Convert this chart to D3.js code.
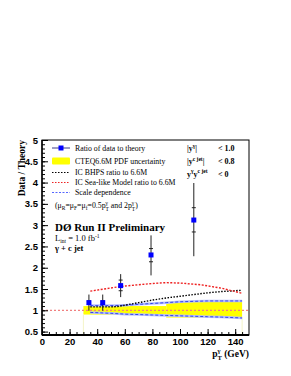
<!DOCTYPE html>
<html>
<head>
<meta charset="utf-8">
<script src="https://cdn.jsdelivr.net/npm/d3@7/dist/d3.min.js"></script>
<style>
  body { margin: 0; background: #fff; }
  svg { display: block; }
  .serif { font-family: 'Liberation Serif', 'DejaVu Serif', serif; }
  .tick text { font-family: 'Liberation Sans', Arial, sans-serif; font-weight: bold; font-size: 9.5px; fill: #000; }
</style>
</head>
<body>
<div id="chart"></div>
<script>
// data points: ratio of data to theory
const ptPoints = [34, 44, 57, 79, 110];
const ratio = [1.18, 1.18, 1.58, 2.30, 3.12];
const totLow = [0.99, 0.99, 1.31, 1.82, 2.27];
const totHigh = [1.37, 1.37, 1.85, 2.76, 3.99];
const statLow = [1.14, 1.14, 1.46, 2.14, 2.84];
const statHigh = [1.22, 1.22, 1.71, 2.45, 3.41];

// CTEQ6.6M PDF uncertainty band (bin edges)
const bandEdges = [30, 90, 145];
const bandLow = [0.90, 0.83];
const bandHigh = [1.10, 1.20];

// IC BHPS ratio
const bhpsPt = [35, 50, 55, 60, 70, 80, 90, 100, 110, 120, 130, 140, 145];
const bhpsRatio = [1.08, 1.08, 1.09, 1.12, 1.18, 1.24, 1.29, 1.33, 1.37, 1.41, 1.44, 1.46, 1.47];

// IC Sea-like ratio
const seaPt = [35, 45, 57, 70, 80, 90, 100, 115, 130, 145];
const seaRatio = [1.45, 1.50, 1.56, 1.60, 1.63, 1.65, 1.64, 1.60, 1.52, 1.40];

// scale dependence
const scalePt = [35, 50, 60, 70, 80, 90, 100, 110, 120, 130, 145];
const scaleUp = [1.11, 1.11, 1.12, 1.14, 1.16, 1.18, 1.20, 1.21, 1.22, 1.22, 1.22];
const scaleDown = [0.95, 0.93, 0.91, 0.90, 0.89, 0.88, 0.87, 0.86, 0.85, 0.84, 0.82];

const xTicks = [0, 20, 40, 60, 80, 100, 120, 140];
const yTicks = [0.5, 1, 1.5, 2, 2.5, 3, 3.5, 4, 4.5, 5];

// #Dimensions
const w = 291, h = 376;
const padL = 42, padR = 249, padT = 140, padB = 335;

const svg = d3.select('#chart').append('svg')
  .attr('width', w).attr('height', h);

const x = d3.scaleLinear().domain([0, 150]).range([padL, padR]);
const y = d3.scaleLinear().domain([0.42, 5.0]).range([padB, padT]);

// #Band
bandLow.forEach((lo, i) => {
  svg.append('rect')
    .attr('x', x(bandEdges[i]))
    .attr('y', y(bandHigh[i]))
    .attr('width', x(bandEdges[i + 1]) - x(bandEdges[i]))
    .attr('height', y(lo) - y(bandHigh[i]))
    .attr('fill', '#ffff00');
});
// faint band edges down to the axis
[bandEdges[0], bandEdges[bandEdges.length - 1]].forEach((e, i) => {
  svg.append('line')
    .attr('x1', x(e)).attr('x2', x(e))
    .attr('y1', y(i === 0 ? bandLow[0] : bandLow[bandLow.length - 1])).attr('y2', padB)
    .attr('stroke', '#f4f4c8').attr('stroke-width', 1);
});

// #Reference line at 1
svg.append('line')
  .attr('x1', x(0)).attr('x2', x(150))
  .attr('y1', y(1)).attr('y2', y(1))
  .attr('stroke', '#f08080').attr('stroke-width', 1.3)
  .attr('stroke-dasharray', '2,2');

const line = d3.line().x(d => x(d[0])).y(d => y(d[1]));

// #Scale dependence
[scaleUp, scaleDown].forEach(vals => {
  const pts = scalePt.map((p, i) => [p, vals[i]]);
  svg.append('path').attr('d', line(pts))
    .attr('fill', 'none').attr('stroke', '#b8c0ff').attr('stroke-width', 2.5);
  svg.append('path').attr('d', line(pts))
    .attr('fill', 'none').attr('stroke', '#3344ee').attr('stroke-width', 1)
    .attr('stroke-dasharray', '3,2');
});

// #BHPS
svg.append('path').attr('d', line(bhpsPt.map((p, i) => [p, bhpsRatio[i]])))
  .attr('fill', 'none').attr('stroke', '#000').attr('stroke-width', 1.4)
  .attr('stroke-dasharray', '1.5,1.5');

// #Sea-like
svg.append('path').attr('d', line(seaPt.map((p, i) => [p, seaRatio[i]])))
  .attr('fill', 'none').attr('stroke', '#ee2222').attr('stroke-width', 1.4)
  .attr('stroke-dasharray', '2,1.5');

// #Data points with error bars
const pts = ptPoints.map((p, i) => ({ p, r: ratio[i], lo: totLow[i], hi: totHigh[i], slo: statLow[i], shi: statHigh[i] }));
const g = svg.append('g');
g.selectAll('line.err').data(pts).enter().append('line')
  .attr('x1', d => x(d.p)).attr('x2', d => x(d.p))
  .attr('y1', d => y(d.lo)).attr('y2', d => y(d.hi))
  .attr('stroke', '#222').attr('stroke-width', 1);
pts.forEach(d => {
  [d.slo, d.shi].forEach(v => {
    g.append('line')
      .attr('x1', x(d.p) - 2).attr('x2', x(d.p) + 2)
      .attr('y1', y(v)).attr('y2', y(v))
      .attr('stroke', '#222').attr('stroke-width', 1);
  });
});
g.selectAll('rect').data(pts).enter().append('rect')
  .attr('x', d => x(d.p) - 2.5).attr('y', d => y(d.r) - 2.5)
  .attr('width', 5).attr('height', 5)
  .attr('fill', '#0000ff');

// #Axes
svg.append('g').attr('transform', 'translate(' + padL + ',0)')
  .call(d3.axisLeft(y).tickValues(d3.range(0.5, 5.0, 0.1)).tickSize(-3).tickFormat(''))
  .call(a => a.select('.domain').remove())
  .selectAll('line').attr('stroke', '#000');
svg.append('g').attr('transform', 'translate(' + padL + ',0)')
  .call(d3.axisLeft(y).tickValues(yTicks).tickSize(-6).tickPadding(4).tickFormat(d => String(d)))
  .call(a => a.select('.domain').remove())
  .selectAll('line').attr('stroke', '#000');

svg.append('g').attr('transform', 'translate(0,' + padB + ')')
  .call(d3.axisBottom(x).tickValues(d3.range(0, 150, 5)).tickSize(-3).tickFormat(''))
  .call(a => a.select('.domain').remove())
  .selectAll('line').attr('stroke', '#000');
svg.append('g').attr('transform', 'translate(0,' + padB + ')')
  .call(d3.axisBottom(x).tickValues(xTicks).tickSize(-6).tickPadding(3))
  .call(a => a.select('.domain').remove())
  .selectAll('line').attr('stroke', '#000');

// #Frame
svg.append('rect')
  .attr('x', padL).attr('y', padT)
  .attr('width', padR - padL).attr('height', padB - padT)
  .attr('fill', 'none').attr('stroke', '#000').attr('stroke-width', 1);
svg.append('line').attr('x1', padL).attr('x2', padR).attr('y1', padB).attr('y2', padB)
  .attr('stroke', '#000').attr('stroke-width', 1.8);
svg.append('line').attr('x1', padL).attr('x2', padL).attr('y1', padT).attr('y2', padB)
  .attr('stroke', '#000').attr('stroke-width', 1.4);

// #Axis titles
svg.append('text').attr('class', 'serif')
  .attr('transform', 'translate(25,' + padT + ') rotate(-90)')
  .attr('text-anchor', 'end')
  .attr('font-size', 9.5).attr('font-weight', 'bold')
  .text('Data / Theory');

const xt = svg.append('text').attr('class', 'serif')
  .attr('x', padR).attr('y', 357)
  .attr('text-anchor', 'end')
  .attr('font-size', 9.5).attr('font-weight', 'bold');
xt.append('tspan').text('p');
xt.append('tspan').attr('font-size', 6.5).attr('dy', -4).text('γ');
xt.append('tspan').attr('font-size', 6.5).attr('dx', -3).attr('dy', 7).text('T');
xt.append('tspan').attr('dy', -3).text(' (GeV)');

// #Legend
const lx0 = 52, lx1 = 70, tx = 75;
const legY = [148, 161, 172.5, 182.5, 192.5];
const legendLabels = ['Ratio of data to theory', 'CTEQ6.6M PDF uncertainty', 'IC BHPS ratio to 6.6M', 'IC Sea-like Model ratio to 6.6M', 'Scale dependence'];

svg.append('line').attr('x1', lx0).attr('x2', lx1).attr('y1', legY[0]).attr('y2', legY[0])
  .attr('stroke', '#3a3a8a').attr('stroke-width', 1);
svg.append('rect').attr('x', 58.5).attr('y', legY[0] - 2.5).attr('width', 5).attr('height', 5).attr('fill', '#0000ff');
svg.append('rect').attr('x', lx0).attr('y', legY[1] - 3.5).attr('width', lx1 - lx0).attr('height', 7)
  .attr('fill', '#ffff00').attr('rx', 1);
svg.append('line').attr('x1', lx0).attr('x2', lx1).attr('y1', legY[2]).attr('y2', legY[2])
  .attr('stroke', '#000').attr('stroke-width', 1.2).attr('stroke-dasharray', '1.5,1.5');
svg.append('line').attr('x1', lx0).attr('x2', lx1).attr('y1', legY[3]).attr('y2', legY[3])
  .attr('stroke', '#ee2222').attr('stroke-width', 1.2).attr('stroke-dasharray', '1.5,1.5');
svg.append('line').attr('x1', lx0).attr('x2', lx1).attr('y1', legY[4]).attr('y2', legY[4])
  .attr('stroke', '#5566ff').attr('stroke-width', 1.2).attr('stroke-dasharray', '2,1.5');

legendLabels.forEach((t, i) => {
  svg.append('text').attr('class', 'serif')
    .attr('x', tx).attr('y', legY[i] + 2.8)
    .attr('font-size', 7.8).text(t);
});

// scale choice line
const sc = svg.append('text').attr('class', 'serif')
  .attr('x', 55).attr('y', 207.5).attr('font-size', 7.8);
sc.append('tspan').text('(μ');
sc.append('tspan').attr('font-size', 5.5).attr('dy', 2).text('R');
sc.append('tspan').attr('dy', -2).text('=μ');
sc.append('tspan').attr('font-size', 5.5).attr('dy', 2).text('F');
sc.append('tspan').attr('dy', -2).text('=μ');
sc.append('tspan').attr('font-size', 5.5).attr('dy', 2).text('f');
sc.append('tspan').attr('dy', -2).text('=0.5p');
sc.append('tspan').attr('font-size', 5.5).attr('dy', -3).text('γ');
sc.append('tspan').attr('font-size', 5.5).attr('dx', -2.5).attr('dy', 6).text('T');
sc.append('tspan').attr('dy', -3).text(' and 2p');
sc.append('tspan').attr('font-size', 5.5).attr('dy', -3).text('γ');
sc.append('tspan').attr('font-size', 5.5).attr('dx', -2.5).attr('dy', 6).text('T');
sc.append('tspan').attr('dy', -3).text(')');

// #Experiment labels
svg.append('text').attr('class', 'serif')
  .attr('x', 55).attr('y', 230.5)
  .attr('font-size', 11).attr('font-weight', 'bold')
  .text('DØ Run II Preliminary');

const lum = svg.append('text').attr('class', 'serif')
  .attr('x', 55).attr('y', 241).attr('font-size', 8.5);
lum.append('tspan').text('L');
lum.append('tspan').attr('font-size', 5.5).attr('dy', 2).text('int');
lum.append('tspan').attr('dy', -2).text(' = 1.0 fb');
lum.append('tspan').attr('font-size', 5.5).attr('dy', -3.5).text('-1');

svg.append('text').attr('class', 'serif')
  .attr('x', 55).attr('y', 251).attr('font-size', 8.5).attr('font-weight', 'bold')
  .text('γ + c jet');

// #Cuts
const cutY = [151, 164, 176.5];
const c1 = svg.append('text').attr('class', 'serif').attr('x', 187).attr('y', cutY[0])
  .attr('font-size', 8).attr('font-weight', 'bold');
c1.append('tspan').text('|y');
c1.append('tspan').attr('font-size', 5.5).attr('dy', -3.5).text('γ');
c1.append('tspan').attr('dy', 3.5).text('|');
const c2 = svg.append('text').attr('class', 'serif').attr('x', 187).attr('y', cutY[1])
  .attr('font-size', 8).attr('font-weight', 'bold');
c2.append('tspan').text('|y');
c2.append('tspan').attr('font-size', 5.5).attr('dy', -3.5).text('c jet');
c2.append('tspan').attr('dy', 3.5).text('|');
const c3 = svg.append('text').attr('class', 'serif').attr('x', 187).attr('y', cutY[2])
  .attr('font-size', 8).attr('font-weight', 'bold');
c3.append('tspan').text('y');
c3.append('tspan').attr('font-size', 5.5).attr('dy', -3.5).text('γ');
c3.append('tspan').attr('dy', 3.5).text('y');
c3.append('tspan').attr('font-size', 5.5).attr('dy', -3.5).text('c jet');

['< 1.0', '< 0.8', '< 0'].forEach((t, i) => {
  svg.append('text').attr('class', 'serif')
    .attr('x', 218).attr('y', cutY[i])
    .attr('font-size', 8).attr('font-weight', 'bold').text(t);
});
</script>
</body>
</html>
